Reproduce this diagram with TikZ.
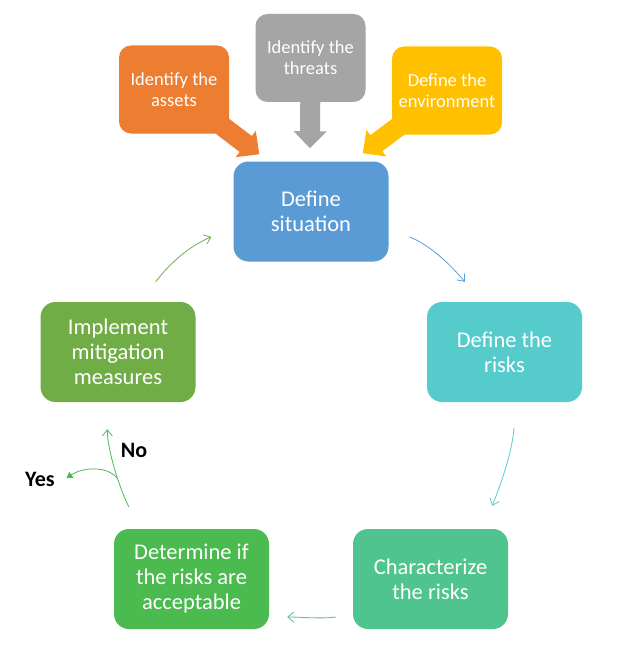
\documentclass[tikz,border=0pt]{standalone}
\usepackage{fontspec}
\setmainfont{Carlito}
\usetikzlibrary{calc}
\usetikzlibrary{arrows.meta,backgrounds}

\definecolor{sitblue}{HTML}{5B9BD5}
\definecolor{assetorange}{HTML}{ED7D31}
\definecolor{threatgray}{HTML}{A5A5A5}
\definecolor{envyellow}{HTML}{FFC000}
\definecolor{riskteal}{HTML}{56CBCC}
\definecolor{charmint}{HTML}{4FC48E}
\definecolor{accgreen}{HTML}{4BBA4F}
\definecolor{mitgreen}{HTML}{70AD47}

\begin{document}
\begin{tikzpicture}[x=1pt, y=-1pt,
    bigbox/.style={rounded corners=15pt, minimum width=155pt, minimum height=100pt,
        text=white, align=center, font=\fontsize{22.5}{25}\selectfont},
    smallbox/.style={rounded corners=12pt, minimum width=110pt, minimum height=88pt,
        text=white, align=center, font=\fontsize{18.5}{21}\selectfont},
    callout/.style={line width=20pt, -{Triangle[length=17pt, width=32pt]}},
    flow/.style={line width=0.8pt, -{Straight Barb[length=6pt, width=10pt]}},
    answer/.style={font=\bfseries\fontsize{22}{24}\selectfont}]

    \useasboundingbox (0,0) rectangle (632,666);

    % main cycle
    \node[bigbox, fill=sitblue] (situation) at (311,211.5) {Define\\situation};
    \node[bigbox, fill=riskteal] (risks) at (504.5,352) {Define the\\risks};
    \node[bigbox, fill=charmint] (characterize) at (430.5,579) {Characterize\\the risks};
    \node[bigbox, fill=accgreen] (acceptable) at (191.5,579) {Determine if\\the risks are\\acceptable};
    \node[bigbox, fill=mitgreen] (mitigation) at (118,352) {Implement\\mitigation\\measures};

    % inputs on top
    \node[smallbox, fill=assetorange] (assets) at (174,89.5) {Identify the\\assets};
    \node[smallbox, fill=threatgray] (threats) at (310.5,58) {Identify the\\threats};
    \node[smallbox, fill=envyellow] (environment) at (447,90.5) {Define the\\environment};

    % tips of the block arrows
    \coordinate (tipA) at ($(situation.north west)+(26,-7)$);
    \coordinate (tipT) at ($(situation.north)+(-1,-13)$);
    \coordinate (tipE) at ($(situation.north east)+(-26,-8)$);

    \begin{pgfonlayer}{background}
        \draw[callout, assetorange] (assets.center) -- (tipA);
        \draw[callout, threatgray] (threats.center) -- (tipT);
        \draw[callout, envyellow] (environment.center) -- (tipE);
    \end{pgfonlayer}

    % thin curved arrows
    \draw[flow, sitblue]
        ($(situation.east)+(21,25.5)$) .. controls +(20,8) and +(-15,-18) .. ($(risks.north west)+(38,-20)$);
    \draw[flow, riskteal]
        ($(risks.south)+(9.5,26)$) .. controls +(-2,25) and +(8,-20) .. ($(characterize.north east)+(-16,-23)$);
    \draw[flow, charmint]
        ($(characterize.west)+(-17,38)$) .. controls +(-15,2) and +(15,0) .. ($(acceptable.east)+(18,38)$);
    \draw[flow, accgreen]
        ($(acceptable.north west)+(15,-22)$) .. controls +(-10,-20) and +(0,20) .. ($(mitigation.south west)+(67,27)$)
        coordinate[pos=0.38] (fork);
    \draw[line width=0.8pt, accgreen, -{Triangle[length=6pt, width=7pt]}]
        (fork) .. controls +(-12,-14) and +(14,-10) .. ($(fork)+(-51,0)$);
    \draw[flow, mitgreen]
        ($(mitigation.north east)+(-40,-20)$) .. controls +(15,-20) and +(-20,8) .. ($(situation.west)+(-22,25.5)$);

    % answers
    \node[answer] (no) at (134,450) {No};
    \node[answer] (yes) at (40,479) {Yes};

\end{tikzpicture}
\end{document}
